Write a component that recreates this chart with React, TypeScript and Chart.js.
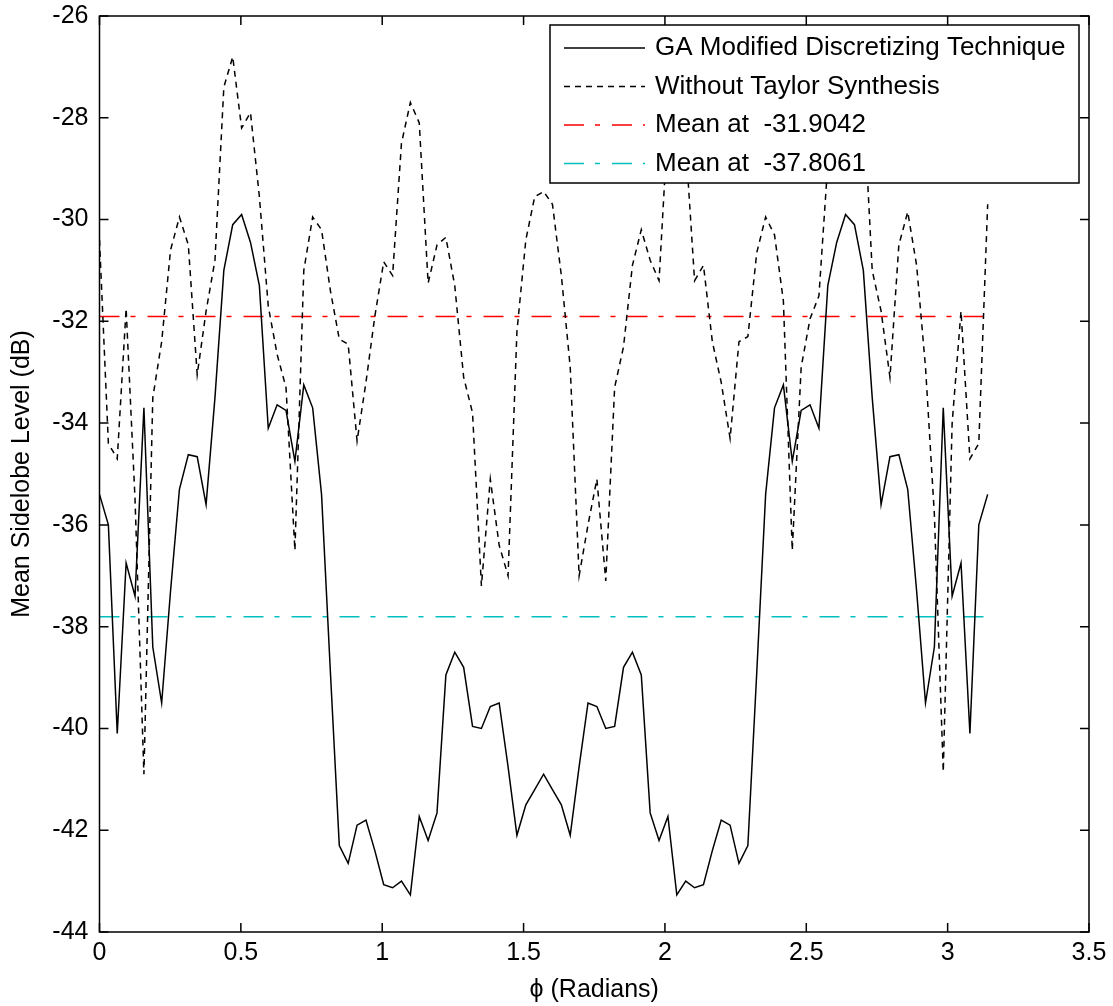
import React, { useEffect, useRef } from "react";
import { Chart, registerables } from "chart.js";

Chart.register(...registerables);

// Observation angle grid (radians)
const PHI = [
  0, 0.0314, 0.0628, 0.0942, 0.1257, 0.1571, 0.1885, 0.2199, 0.2513, 0.2827,
  0.3142, 0.3456, 0.377, 0.4084, 0.4398, 0.4712, 0.5027, 0.5341, 0.5655, 0.5969,
  0.6283, 0.6597, 0.6912, 0.7226, 0.754, 0.7854, 0.8168, 0.8482, 0.8796, 0.9111,
  0.9425, 0.9739, 1.0053, 1.0367, 1.0681, 1.0996, 1.131, 1.1624, 1.1938, 1.2252,
  1.2566, 1.2881, 1.3195, 1.3509, 1.3823, 1.4137, 1.4451, 1.4765, 1.508, 1.5394,
  1.5708, 1.6022, 1.6336, 1.665, 1.6965, 1.7279, 1.7593, 1.7907, 1.8221, 1.8535,
  1.885, 1.9164, 1.9478, 1.9792, 2.0106, 2.042, 2.0735, 2.1049, 2.1363, 2.1677,
  2.1991, 2.2305, 2.2619, 2.2934, 2.3248, 2.3562, 2.3876, 2.419, 2.4504, 2.4819,
  2.5133, 2.5447, 2.5761, 2.6075, 2.6389, 2.6704, 2.7018, 2.7332, 2.7646, 2.796,
  2.8274, 2.8588, 2.8903, 2.9217, 2.9531, 2.9845, 3.0159, 3.0473, 3.0788, 3.1102,
  3.1416,
];

// Mean sidelobe level with the GA modified discretizing technique (dB)
const GA_LEVEL = [
  -35.4, -36.0, -40.1, -36.75, -37.4, -33.7, -38.4, -39.5, -37.3, -35.3,
  -34.62, -34.66, -35.6, -33.5, -31.0, -30.1, -29.9, -30.45, -31.3, -34.1,
  -33.64, -33.75, -34.75, -33.25, -33.7, -35.4, -38.9, -42.3, -42.65, -41.9,
  -41.8, -42.4, -43.07, -43.13, -43.0, -43.27, -41.73, -42.2, -41.66, -38.95,
  -38.5, -38.8, -39.96, -40.0, -39.57, -39.5, -40.75, -42.1, -41.5, -41.2,
  -40.9, -41.2, -41.5, -42.1, -40.75, -39.5, -39.57, -40.0, -39.96, -38.8,
  -38.5, -38.95, -41.66, -42.2, -41.73, -43.27, -43.0, -43.13, -43.07, -42.4,
  -41.8, -41.9, -42.65, -42.3, -38.9, -35.4, -33.7, -33.25, -34.75, -33.75,
  -33.64, -34.1, -31.3, -30.45, -29.9, -30.1, -31.0, -33.5, -35.6, -34.66,
  -34.62, -35.3, -37.3, -39.5, -38.4, -33.7, -37.4, -36.75, -40.1, -36.0,
  -35.4,
];

// Mean sidelobe level without Taylor synthesis (dB)
const NO_TAYLOR_LEVEL = [
  -30.4, -34.4, -34.7, -31.75, -35.5, -40.9, -33.5, -32.4, -30.6, -29.95,
  -30.5, -33.05, -31.8, -30.8, -27.4, -26.8, -28.2, -27.9, -29.55, -31.7,
  -32.65, -33.3, -36.5, -31.0, -29.95, -30.2, -31.4, -32.35, -32.45, -34.35,
  -33.2, -31.9, -30.83, -31.1, -28.5, -27.7, -28.1, -31.25, -30.5, -30.35,
  -31.3, -33.1, -33.8, -37.2, -35.1, -36.4, -37.0, -32.2, -30.4, -29.55,
  -29.45, -29.7, -31.1, -32.9, -37.0, -36.0, -35.1, -37.1, -33.3, -32.5,
  -30.9, -30.2, -30.8, -31.2, -28.1, -27.7, -28.5, -31.2, -30.9, -32.4,
  -33.2, -34.3, -32.4, -32.3, -30.65, -29.95, -30.3, -31.6, -36.5, -32.9,
  -31.95, -31.5, -28.9, -27.9, -28.2, -26.8, -27.6, -31.0, -31.8, -33.1,
  -30.5, -29.85, -30.9, -32.9, -35.8, -40.85, -34.0, -31.8, -34.7, -34.4,
  -29.7,
];

const MEAN_LEVELS = [-31.9042, -37.8061];
const SERIES_NAMES = ["GA Modified Discretizing Technique", "Without Taylor Synthesis"];
const X_TICKS = [0, 0.5, 1, 1.5, 2, 2.5, 3, 3.5];
const Y_TICKS = [-44, -42, -40, -38, -36, -34, -32, -30, -28, -26];
const X_TITLE = "\u03D5 (Radians)";
const Y_TITLE = "Mean Sidelobe Level (dB)";

const FONT_FAMILY = '"Liberation Sans", Arial, Helvetica, sans-serif';
const FONT_SIZE = 25;
const DOTTED = [6, 5];
const DASH_DOT = [20, 11, 5, 12];
const LINE_W = 1.5;

const toPoints = (ys: number[]) => PHI.map((x, i) => ({ x, y: ys[i] }));
const meanPoints = (v: number) => [
  { x: PHI[0], y: v },
  { x: PHI[PHI.length - 1], y: v },
];

// Box frame with inward ticks on all four sides
const framePlugin = {
  id: "frameTicks",
  afterDatasetsDraw(chart: any) {
    const { ctx, chartArea: a, scales } = chart;
    const xs = scales.x;
    const ys = scales.y;
    const len = 9;
    ctx.save();
    ctx.setLineDash([]);
    ctx.strokeStyle = "#000";
    ctx.lineWidth = LINE_W;
    ctx.strokeRect(a.left, a.top, a.right - a.left, a.bottom - a.top);
    ctx.beginPath();
    X_TICKS.forEach((v) => {
      const px = xs.getPixelForValue(v);
      ctx.moveTo(px, a.bottom);
      ctx.lineTo(px, a.bottom - len);
      ctx.moveTo(px, a.top);
      ctx.lineTo(px, a.top + len);
    });
    Y_TICKS.forEach((v) => {
      const py = ys.getPixelForValue(v);
      ctx.moveTo(a.left, py);
      ctx.lineTo(a.left + len, py);
      ctx.moveTo(a.right, py);
      ctx.lineTo(a.right - len, py);
    });
    ctx.stroke();
    ctx.restore();
  },
};

// Opaque legend box in the upper right corner of the plot area
const boxedLegend = {
  id: "boxedLegend",
  afterDatasetsDraw(chart: any) {
    const { ctx, chartArea: a } = chart;
    const w = 529;
    const h = 158;
    const left = a.right - 10 - w;
    const top = a.top + 9;
    ctx.save();
    ctx.setLineDash([]);
    ctx.fillStyle = "#fff";
    ctx.fillRect(left, top, w, h);
    ctx.strokeStyle = "#000";
    ctx.lineWidth = LINE_W;
    ctx.strokeRect(left, top, w, h);
    ctx.font = `${FONT_SIZE + 1}px ${FONT_FAMILY}`;
    ctx.textBaseline = "middle";
    ctx.textAlign = "left";
    chart.data.datasets.forEach((ds: any, i: number) => {
      const cy = top + 23 + i * 38.5;
      ctx.beginPath();
      ctx.setLineDash(ds.borderDash || []);
      ctx.strokeStyle = ds.borderColor;
      ctx.lineWidth = ds.borderWidth;
      ctx.moveTo(left + 14, cy);
      ctx.lineTo(left + 95, cy);
      ctx.stroke();
      ctx.setLineDash([]);
      ctx.fillStyle = "#000";
      ctx.fillText(ds.label, left + 105, cy);
    });
    ctx.restore();
  },
};

export default function App() {
  const canvasRef = useRef<HTMLCanvasElement>(null);

  useEffect(() => {
    const canvas = canvasRef.current;
    if (!canvas) return;
    const font = { family: FONT_FAMILY, size: FONT_SIZE };
    const chart = new Chart(canvas, {
      type: "line",
      data: {
        datasets: [
          {
            label: SERIES_NAMES[0],
            data: toPoints(GA_LEVEL),
            borderColor: "#000000",
            borderWidth: LINE_W,
            borderDash: [],
            pointRadius: 0,
            tension: 0,
            fill: false,
          },
          {
            label: SERIES_NAMES[1],
            data: toPoints(NO_TAYLOR_LEVEL),
            borderColor: "#000000",
            borderWidth: LINE_W,
            borderDash: DOTTED,
            pointRadius: 0,
            tension: 0,
            fill: false,
          },
          {
            label: `Mean at  ${MEAN_LEVELS[0]}`,
            data: meanPoints(MEAN_LEVELS[0]),
            borderColor: "#ff0000",
            borderWidth: LINE_W,
            borderDash: DASH_DOT,
            pointRadius: 0,
            fill: false,
          },
          {
            label: `Mean at  ${MEAN_LEVELS[1]}`,
            data: meanPoints(MEAN_LEVELS[1]),
            borderColor: "#00bfbf",
            borderWidth: LINE_W,
            borderDash: DASH_DOT,
            pointRadius: 0,
            fill: false,
          },
        ],
      },
      options: {
        animation: false,
        responsive: false,
        devicePixelRatio: 1,
        layout: { padding: { top: 16, right: 24, left: 0, bottom: 0 } },
        plugins: {
          legend: { display: false },
          tooltip: { enabled: false },
        },
        scales: {
          x: {
            type: "linear",
            min: 0,
            max: 3.5,
            afterFit: (s: any) => {
              s.height = 74;
              s.paddingLeft = 0;
              s.paddingRight = 0;
            },
            afterBuildTicks: (s: any) => {
              s.ticks = X_TICKS.map((value) => ({ value }));
            },
            grid: { display: false, drawTicks: false },
            border: { display: false },
            ticks: {
              color: "#000",
              font,
              padding: 6,
              maxRotation: 0,
              callback: (v: any) => String(v),
            },
            title: {
              display: true,
              text: X_TITLE,
              color: "#000",
              font,
              padding: { top: 0, bottom: 1 },
            },
          },
          y: {
            type: "linear",
            min: -44,
            max: -26,
            afterFit: (s: any) => {
              s.width = 99.5;
              s.paddingTop = 0;
              s.paddingBottom = 0;
            },
            afterBuildTicks: (s: any) => {
              s.ticks = Y_TICKS.map((value) => ({ value }));
            },
            grid: { display: false, drawTicks: false },
            border: { display: false },
            ticks: { color: "#000", font, padding: 11, callback: (v: any) => String(v) },
            title: {
              display: true,
              text: Y_TITLE,
              color: "#000",
              font,
              padding: { top: 7, bottom: 0 },
            },
          },
        },
      },
      plugins: [framePlugin, boxedLegend],
    } as any);
    return () => chart.destroy();
  }, []);

  return (
    <div
      style={{
        position: "absolute",
        left: 0,
        top: 0,
        width: 1113,
        height: 1006,
        background: "#fff",
      }}
    >
      <canvas
        ref={canvasRef}
        width={1113}
        height={1006}
        style={{ display: "block", width: 1113, height: 1006 }}
      />
    </div>
  );
}
